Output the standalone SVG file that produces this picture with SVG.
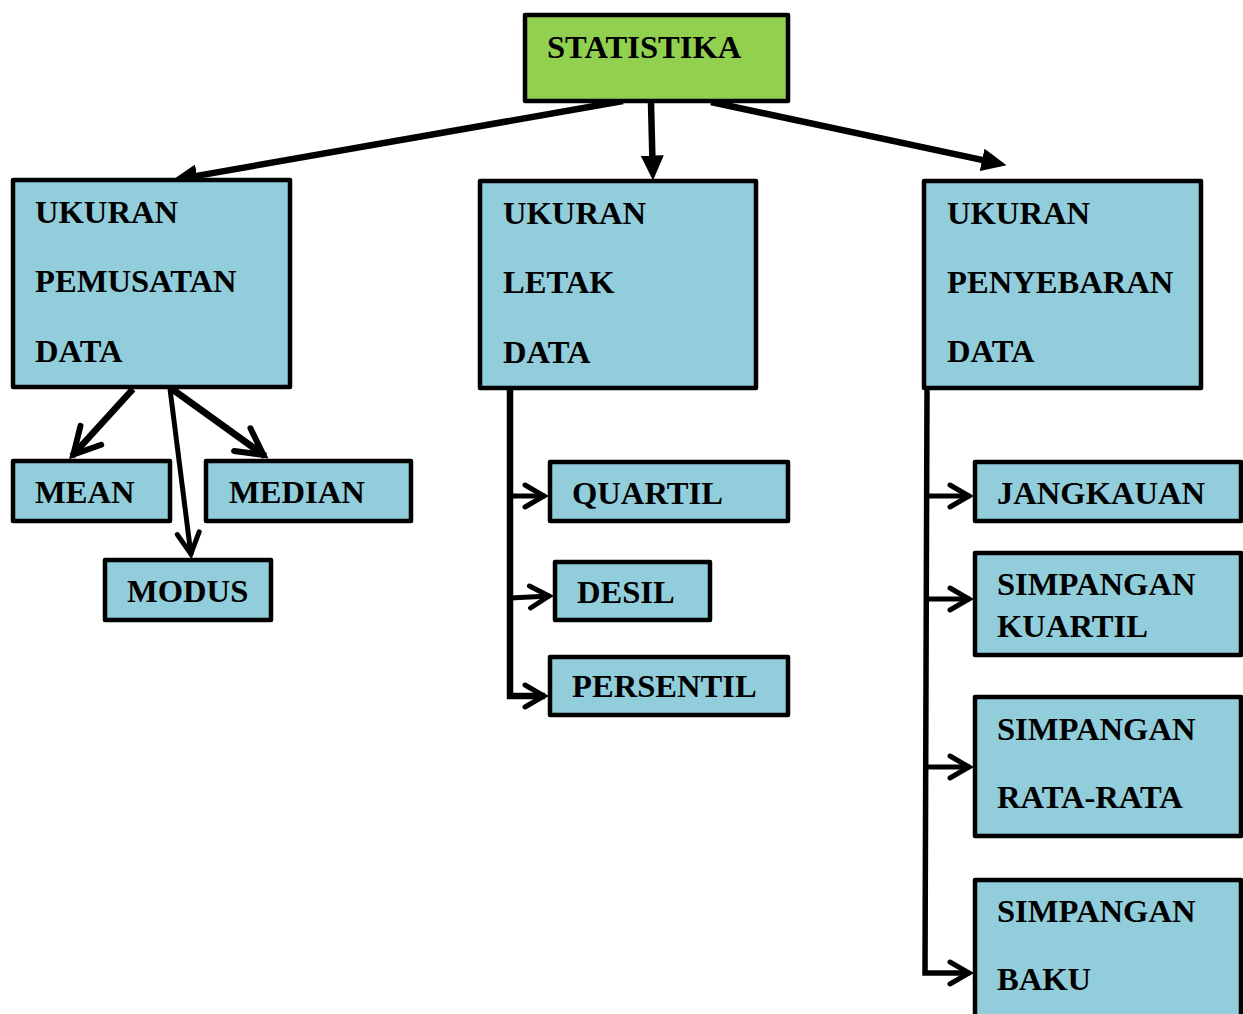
<svg xmlns="http://www.w3.org/2000/svg" width="1243" height="1014" viewBox="0 0 1243 1014">
<defs>
<style>
.box{fill:#92CDDC;stroke:#000;stroke-width:4.5;stroke-linejoin:round}
.top{fill:#92D050;stroke:#000;stroke-width:4.5;stroke-linejoin:round}
text{font-family:"Liberation Serif","Times New Roman",serif;font-weight:bold;font-size:32.6px;fill:#000}
.ln{fill:none;stroke:#000;stroke-linecap:butt}
</style>
<marker id="tri" markerUnits="userSpaceOnUse" viewBox="0 0 24 24" refX="10" refY="12" markerWidth="25" markerHeight="23" orient="auto" preserveAspectRatio="none">
<path d="M0,0 L24,12 L0,24 z" fill="#000"/>
</marker>
<marker id="chev" markerUnits="userSpaceOnUse" viewBox="-30 -16 34 32" refX="0" refY="0" markerWidth="34" markerHeight="32" orient="auto" overflow="visible">
<path d="M-20,-11 L-1,0 L-20,11" fill="none" stroke="#000" stroke-width="5" stroke-linecap="round" stroke-linejoin="miter"/>
</marker>
<marker id="chevL" markerUnits="userSpaceOnUse" viewBox="-36 -20 40 40" refX="0" refY="0" markerWidth="40" markerHeight="40" orient="auto" overflow="visible">
<path d="M-28,-14 L-2,0 L-28,14" fill="none" stroke="#000" stroke-width="6" stroke-linecap="round" stroke-linejoin="miter"/>
</marker>
<marker id="chevM" markerUnits="userSpaceOnUse" viewBox="-30 -16 34 32" refX="0" refY="0" markerWidth="34" markerHeight="32" orient="auto" overflow="visible">
<path d="M-22,-11 L-1,0 L-22,11" fill="none" stroke="#000" stroke-width="5" stroke-linecap="round" stroke-linejoin="miter"/>
</marker>
</defs>
<rect width="1243" height="1014" fill="#fff"/>

<g id="connectors">
<line class="ln" x1="623" y1="101" x2="186.8" y2="177.6" stroke-width="6.5" marker-end="url(#tri)"/>
<line class="ln" x1="651" y1="103" x2="652.6" y2="166" stroke-width="6.5" marker-end="url(#tri)"/>
<line class="ln" x1="711" y1="102" x2="992.3" y2="162.1" stroke-width="6.5" marker-end="url(#tri)"/>

<line class="ln" x1="133" y1="389" x2="72" y2="456" stroke-width="6.5" marker-end="url(#chevL)"/>
<line class="ln" x1="170" y1="389" x2="191" y2="555" stroke-width="5" marker-end="url(#chevM)"/>
<line class="ln" x1="172" y1="389" x2="265" y2="456" stroke-width="7" marker-end="url(#chevL)"/>

<path class="ln" d="M510,389 V696 H545" stroke-width="6.5"/>
<line class="ln" x1="510" y1="496" x2="545" y2="496" stroke-width="5" marker-end="url(#chev)"/>
<line class="ln" x1="510" y1="598" x2="550" y2="596" stroke-width="5" marker-end="url(#chev)"/>
<line class="ln" x1="540" y1="696" x2="545" y2="696" stroke-width="5" marker-end="url(#chev)"/>

<path class="ln" d="M927,389 L925,973 H970" stroke-width="5.5"/>
<line class="ln" x1="926" y1="496" x2="970" y2="496" stroke-width="5" marker-end="url(#chev)"/>
<line class="ln" x1="926" y1="599" x2="970" y2="599" stroke-width="5" marker-end="url(#chev)"/>
<line class="ln" x1="926" y1="767" x2="970" y2="767" stroke-width="5" marker-end="url(#chev)"/>
<line class="ln" x1="960" y1="973" x2="970" y2="973" stroke-width="5" marker-end="url(#chev)"/>
</g>

<g id="statistika">
<rect class="top" x="525" y="15" width="263" height="86"/>
<text x="547" y="58">STATISTIKA</text>
</g>

<g id="ukuran-pemusatan">
<rect class="box" x="13" y="180" width="277" height="207"/>
<text x="35" y="223">UKURAN</text>
<text x="35" y="292">PEMUSATAN</text>
<text x="35" y="362">DATA</text>
</g>

<g id="ukuran-letak">
<rect class="box" x="480" y="181" width="276" height="207"/>
<text x="503" y="224">UKURAN</text>
<text x="503" y="293">LETAK</text>
<text x="503" y="363">DATA</text>
</g>

<g id="ukuran-penyebaran">
<rect class="box" x="924" y="181" width="277" height="207"/>
<text x="947" y="224">UKURAN</text>
<text x="947" y="293">PENYEBARAN</text>
<text x="947" y="362">DATA</text>
</g>

<g id="mean">
<rect class="box" x="13" y="461" width="157" height="60"/>
<text x="35" y="503">MEAN</text>
</g>
<g id="median">
<rect class="box" x="206" y="461" width="205" height="60"/>
<text x="229" y="503">MEDIAN</text>
</g>
<g id="modus">
<rect class="box" x="105" y="560" width="166" height="60"/>
<text x="127" y="602">MODUS</text>
</g>

<g id="quartil">
<rect class="box" x="550" y="462" width="238" height="59"/>
<text x="572" y="504">QUARTIL</text>
</g>
<g id="desil">
<rect class="box" x="555" y="562" width="155" height="58"/>
<text x="577" y="603">DESIL</text>
</g>
<g id="persentil">
<rect class="box" x="550" y="657" width="238" height="58"/>
<text x="572" y="697">PERSENTIL</text>
</g>

<g id="jangkauan">
<rect class="box" x="975" y="462" width="266" height="59"/>
<text x="997" y="504">JANGKAUAN</text>
</g>
<g id="simpangan-kuartil">
<rect class="box" x="975" y="553" width="266" height="102"/>
<text x="997" y="595">SIMPANGAN</text>
<text x="997" y="637">KUARTIL</text>
</g>
<g id="simpangan-rata-rata">
<rect class="box" x="975" y="697" width="266" height="139"/>
<text x="997" y="740">SIMPANGAN</text>
<text x="997" y="808">RATA-RATA</text>
</g>
<g id="simpangan-baku">
<rect class="box" x="975" y="880" width="266" height="200"/>
<text x="997" y="922">SIMPANGAN</text>
<text x="997" y="990">BAKU</text>
</g>
</svg>
